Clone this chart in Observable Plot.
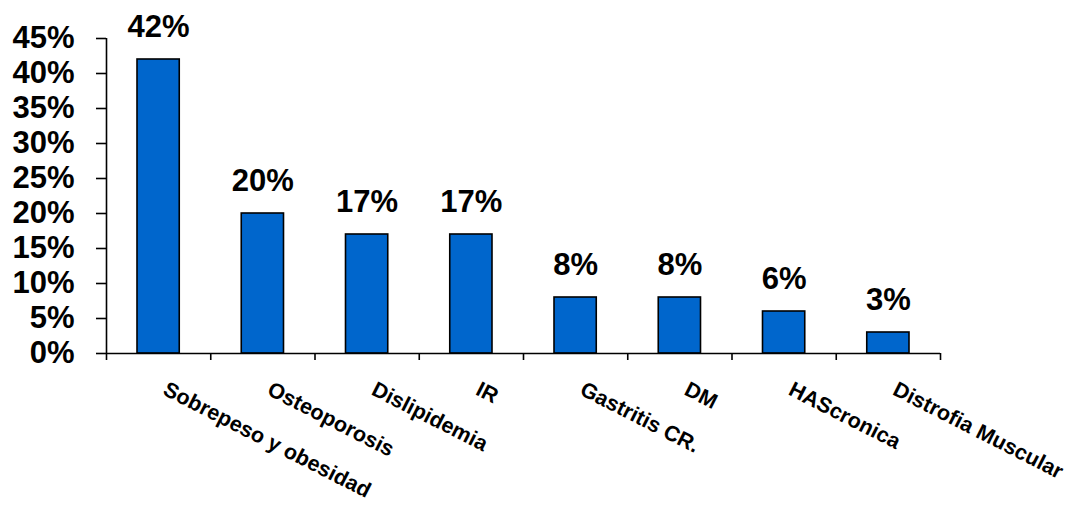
<!DOCTYPE html>
<html>
<head>
<meta charset="utf-8">
<script src="https://cdn.jsdelivr.net/npm/d3@7"></script>
<script src="https://cdn.jsdelivr.net/npm/@observablehq/plot@0.6"></script>
<style>
  html, body { margin: 0; padding: 0; background: #ffffff; }
  #chart { width: 1071px; height: 507px; }
</style>
</head>
<body>
<div id="chart"></div>
<script>
const categories = ["Sobrepeso y obesidad", "Osteoporosis", "Dislipidemia", "IR", "Gastritis CR.", "DM", "HAScronica", "Distrofia Muscular"];
const values = [42, 20, 17, 17, 8, 8, 6, 3];
const yTicks = [0, 5, 10, 15, 20, 25, 30, 35, 40, 45];

const data = categories.map((c, i) => ({category: c, value: values[i], index: i}));
const font = "'Liberation Sans', Arial, Helvetica, sans-serif";

const chart = Plot.plot({
  width: 1071,
  height: 507,
  marginLeft: 106,
  marginRight: 131,
  marginTop: 38,
  marginBottom: 154,
  style: {fontFamily: font, color: "#000", background: "#fff"},
  x: {type: "linear", domain: [0, categories.length], axis: null},
  y: {domain: [0, 45], axis: null},
  marks: [
    Plot.rectY(data, {
      x1: d => d.index, x2: d => d.index + 1, y: "value",
      insetLeft: 31, insetRight: 31,
      fill: "#0066CC", stroke: "#000", strokeWidth: 1.6
    }),
    Plot.ruleX([0], {y1: 0, y2: 45, stroke: "#000", strokeWidth: 1.6}),
    Plot.ruleY([0], {stroke: "#000", strokeWidth: 1.6}),
    Plot.axisY({
      ticks: yTicks, tickSize: 10, tickPadding: 22,
      tickFormat: d => d + "%", fontSize: 31, fontWeight: "bold",
      label: null, strokeWidth: 1.6
    }),
    Plot.axisX({
      ticks: d3.range(0, categories.length + 1), tickSize: 7,
      tickFormat: () => "", label: null, strokeWidth: 1.6
    }),
    Plot.text(data, {
      x: d => d.index + 0.5, y: "value", text: d => d.value + "%",
      dy: -23, lineAnchor: "bottom", fontSize: 31, fontWeight: "bold", fill: "#000"
    }),
    Plot.text(data, {
      x: d => d.index + 0.5, y: () => 0, text: "category",
      rotate: 27, textAnchor: "start", lineAnchor: "top",
      dx: 10, dy: 27, fontSize: 21.5, fontWeight: "bold", fill: "#000"
    })
  ]
});
document.getElementById("chart").appendChild(chart);
</script>
</body>
</html>
